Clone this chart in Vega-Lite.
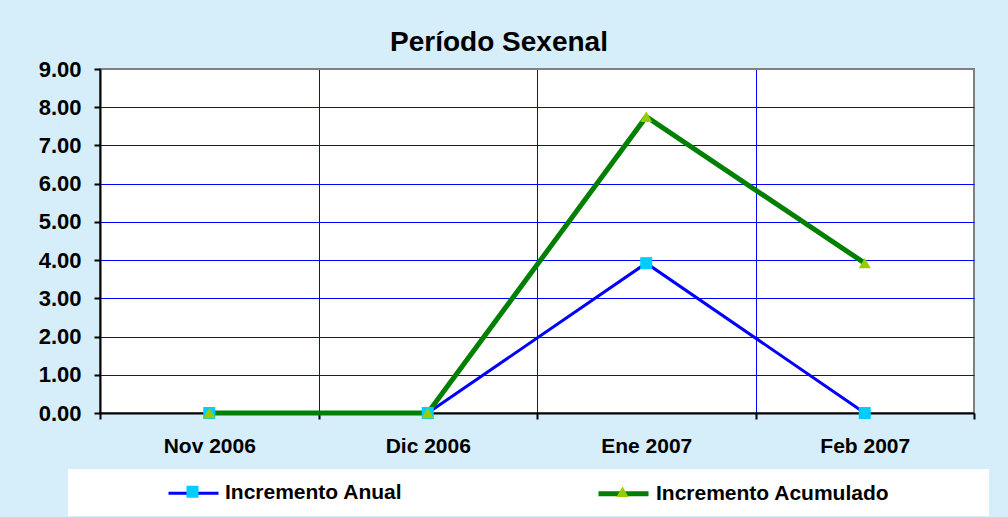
{
  "$schema": "https://vega.github.io/schema/vega-lite/v6.json",
  "width": 874,
  "height": 344,
  "autosize": {"type": "none"},
  "padding": {"left": 100, "top": 69, "right": 34, "bottom": 104},
  "background": "#D6EDFA",
  "title": {
    "text": "Período Sexenal",
    "font": "Liberation Sans",
    "fontSize": 28,
    "fontWeight": "bold",
    "color": "#000000",
    "anchor": "middle",
    "dx": -38,
    "offset": 1
  },
  "config": {
    "font": "Liberation Sans",
    "view": {"fill": "#FFFFFF", "stroke": "#808080", "strokeWidth": 2}
  },
  "data": {
    "values": [
      {"mes": "Nov 2006", "serie": "Incremento Anual", "valor": 0},
      {"mes": "Dic 2006", "serie": "Incremento Anual", "valor": 0},
      {"mes": "Ene 2007", "serie": "Incremento Anual", "valor": 3.92},
      {"mes": "Feb 2007", "serie": "Incremento Anual", "valor": 0},
      {"mes": "Nov 2006", "serie": "Incremento Acumulado", "valor": 0},
      {"mes": "Dic 2006", "serie": "Incremento Acumulado", "valor": 0},
      {"mes": "Ene 2007", "serie": "Incremento Acumulado", "valor": 7.75},
      {"mes": "Feb 2007", "serie": "Incremento Acumulado", "valor": 3.92}
    ]
  },
  "encoding": {
    "x": {
      "field": "mes",
      "type": "nominal",
      "bandPosition": 0.5,
      "scale": {
        "type": "band",
        "domain": ["Nov 2006", "Dic 2006", "Ene 2007", "Feb 2007"],
        "paddingInner": 0,
        "paddingOuter": 0
      },
      "axis": {
        "title": null,
        "tickBand": "extent",
        "grid": true,
        "gridColor": {"condition": {"test": "datum.value == 'Feb 2007'", "value": "#808080"}, "value": "#0000FF"},
        "gridWidth": 1,
        "gridOpacity": 1,
        "domainColor": "#000000",
        "domainWidth": 2,
        "tickColor": "#000000",
        "tickWidth": 2,
        "tickSize": 6,
        "labelFont": "Liberation Sans",
        "labelFontSize": 21,
        "labelFontWeight": "bold",
        "labelColor": "#000000",
        "labelPadding": 16,
        "labelAngle": 0,
        "labelLimit": 300
      }
    },
    "y": {
      "field": "valor",
      "type": "quantitative",
      "scale": {"domain": [0, 9], "nice": false},
      "axis": {
        "title": null,
        "values": [0, 1, 2, 3, 4, 5, 6, 7, 8, 9],
        "format": ".2f",
        "grid": true,
        "gridColor": {"condition": {"test": "datum.value == 9", "value": "#808080"}, "value": "#0000FF"},
        "gridWidth": 1,
        "gridOpacity": 1,
        "domainColor": "#000000",
        "domainWidth": 2,
        "tickColor": "#000000",
        "tickWidth": 2,
        "tickSize": 6,
        "labelFont": "Liberation Sans",
        "labelFontSize": 22,
        "labelFontWeight": "bold",
        "labelColor": "#000000",
        "labelPadding": 13
      }
    }
  },
  "layer": [
    {
      "mark": {"type": "line", "strokeJoin": "miter", "strokeCap": "butt"},
      "encoding": {
        "stroke": {
          "field": "serie",
          "type": "nominal",
          "scale": {"domain": ["Incremento Anual", "Incremento Acumulado"], "range": ["#0000FF", "#008000"]},
          "legend": {
            "orient": "none", "legendX": -32, "legendY": 400, "direction": "horizontal",
            "title": " ", "titleOrient": "left", "titlePadding": 102, "titleColor": "transparent", "titleFontSize": 21,
            "fillColor": "#FFFFFF", "padding": 12, "symbolType": "M-2.5,0H2.5", "symbolSize": 400,
            "labelFont": "Liberation Sans", "labelFontSize": 21, "labelFontWeight": "bold", "labelColor": "#000000",
            "labelOffset": 20, "labelLimit": 500, "columnPadding": 185,
            "labelExpr": "datum.label == 'Incremento Acumulado' ? datum.label + '               \u200b' : datum.label",
            "zindex": 0
          }
        },
        "strokeWidth": {
          "field": "serie",
          "type": "nominal",
          "scale": {"domain": ["Incremento Anual", "Incremento Acumulado"], "range": [3, 5]},
          "legend": {
            "orient": "none", "legendX": -32, "legendY": 400, "direction": "horizontal",
            "title": " ", "titleOrient": "left", "titlePadding": 102, "titleColor": "transparent", "titleFontSize": 21,
            "fillColor": "#FFFFFF", "padding": 12, "symbolType": "M-2.5,0H2.5", "symbolSize": 400,
            "labelFont": "Liberation Sans", "labelFontSize": 21, "labelFontWeight": "bold", "labelColor": "#000000",
            "labelOffset": 20, "labelLimit": 500, "columnPadding": 185,
            "labelExpr": "datum.label == 'Incremento Acumulado' ? datum.label + '               \u200b' : datum.label",
            "zindex": 0
          }
        }
      }
    },
    {
      "mark": {"type": "point", "filled": true, "opacity": 1, "size": 144, "strokeWidth": 0},
      "encoding": {
        "fill": {
          "field": "serie",
          "type": "nominal",
          "sort": "descending",
          "scale": {"range": ["#00CCFF", "#99CC00"]},
          "legend": {
            "orient": "none", "legendX": 70, "legendY": 400, "direction": "horizontal",
            "title": null, "padding": 12, "symbolSize": 144, "symbolStrokeWidth": 0, "symbolOpacity": 1,
            "labelFont": "Liberation Sans", "labelFontSize": 21, "labelFontWeight": "bold",
            "labelExpr": "'-'", "labelOpacity": 0,
            "labelOffset": 2, "labelLimit": 500, "columnPadding": 400, "zindex": 1
          }
        },
        "shape": {
          "field": "serie",
          "type": "nominal",
          "sort": "descending",
          "scale": {"range": ["square", "triangle-up"]},
          "legend": {
            "orient": "none", "legendX": 70, "legendY": 400, "direction": "horizontal",
            "title": null, "padding": 12, "symbolSize": 144, "symbolStrokeWidth": 0, "symbolOpacity": 1,
            "labelFont": "Liberation Sans", "labelFontSize": 21, "labelFontWeight": "bold",
            "labelExpr": "'-'", "labelOpacity": 0,
            "labelOffset": 2, "labelLimit": 500, "columnPadding": 400, "zindex": 1
          }
        }
      }
    }
  ]
}
